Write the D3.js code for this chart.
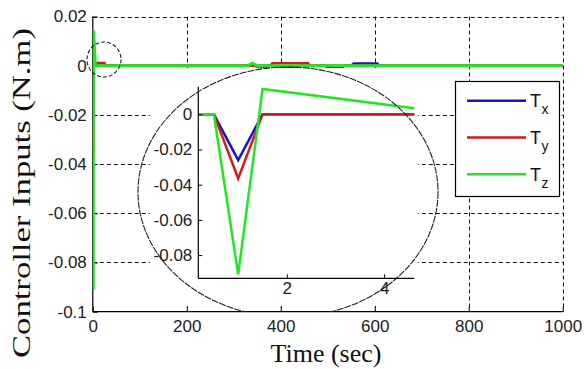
<!DOCTYPE html>
<html><head><meta charset="utf-8">
<script src="https://cdn.jsdelivr.net/npm/d3@7"></script>
<style>body{margin:0;background:#fff}svg{display:block}</style>
</head><body>
<script>
// ---- data ----
const seriesNames = ["T", "T", "T"];
const seriesSubs = ["x", "y", "z"];
const seriesColors = ["#1414c8", "#d01c1c", "#22e622"];
const txTime = [0, 0.5, 1.0, 1.5, 385, 390, 430, 435, 495, 500, 530, 535, 550, 555, 605, 610, 1000];
const txVals = [0, 0, -0.026, 0, 0, -0.0008, -0.0008, 0, 0, -0.0009, -0.0009, 0, 0, 0.0009, 0.0009, 0, 0];
const tyTime = [0, 0.5, 1.0, 1.5, 8, 9, 25, 26, 348, 352, 368, 372, 378, 382, 458, 462, 1000];
const tyVals = [0, 0, -0.0365, 0, 0, 0.0011, 0.0011, 0, 0, -0.0010, -0.0010, 0, 0, 0.0010, 0.0010, 0, 0];
const tzTime = [0, 0.5, 1.0, 1.5, 4.62, 5.6, 330, 340, 350, 1000];
const tzVals = [0, 0, -0.091, 0.0144, 0.0034, 0, 0, 0.0010, 0, 0];
const mainXTicks = [0, 200, 400, 600, 800, 1000];
const mainYTicks = [0.02, 0, -0.02, -0.04, -0.06, -0.08, -0.1];
const insetXTicks = [2, 4];
const insetYTicks = [0, -0.02, -0.04, -0.06, -0.08];
const xLabel = "Time (sec)";
const yLabel = "Controller Inputs (N.m)";

const series = [
  {t: txTime, v: txVals},
  {t: tyTime, v: tyVals},
  {t: tzTime, v: tzVals}
].map((s, i) => ({name: seriesNames[i], sub: seriesSubs[i], color: seriesColors[i],
  pts: s.t.map((t, j) => [t, s.v[j]])}));

const W = 584, H = 369;
const svg = d3.select("body").append("svg").attr("width", W).attr("height", H);
const tickFont = "'Liberation Sans', Arial, sans-serif";
const serif = "'Liberation Serif', 'Times New Roman', serif";

// ---- main axes ----
const x = d3.scaleLinear().domain([0, 1000]).range([92.8, 562.7]);
const y = d3.scaleLinear().domain([-0.1, 0.02]).range([311.7, 16.5]);

const defs = svg.append("defs");
defs.append("clipPath").attr("id", "mainclip").append("rect")
  .attr("x", x(0)).attr("y", y(0.02)).attr("width", x(1000) - x(0)).attr("height", y(-0.1) - y(0.02));

// grid
const grid = svg.append("g").attr("stroke", "#111").attr("stroke-width", 1).attr("stroke-dasharray", "4,3");
grid.selectAll("line.v").data(mainXTicks.filter(d => d > 0)).enter().append("line")
  .attr("x1", d => Math.round(x(d)) + 0.5).attr("x2", d => Math.round(x(d)) + 0.5)
  .attr("y1", y(0.02)).attr("y2", y(-0.1));
grid.selectAll("line.h").data(mainYTicks.filter(d => d > -0.1)).enter().append("line")
  .attr("y1", d => Math.round(y(d)) + 0.5).attr("y2", d => Math.round(y(d)) + 0.5)
  .attr("x1", x(0)).attr("x2", x(1000));

// axes (bottom + left)
const xAxis = d3.axisBottom(x).tickValues(mainXTicks).tickSize(-5).tickPadding(8).tickFormat(d3.format("d"));
const gx = svg.append("g").attr("transform", `translate(0,${y(-0.1)})`).call(xAxis);
const yAxis = d3.axisLeft(y).tickValues(mainYTicks).tickSize(-5).tickPadding(6)
  .tickFormat(d => d === 0 ? "0" : String(d));
const gy = svg.append("g").attr("transform", `translate(${x(0)},0)`).call(yAxis);
[gx, gy].forEach(g => {
  g.select(".domain").attr("stroke", "#000").attr("stroke-width", 1.2);
  g.selectAll(".tick line").attr("stroke", "#000");
  g.selectAll(".tick text").attr("font-family", tickFont).attr("font-size", 17).attr("fill", "#222");
});
gx.select(".domain").attr("d", `M${x(0)},0H${x(1000)}`);
gy.select(".domain").attr("d", `M0,${y(-0.1)}V${y(0.02)}`);
gx.selectAll(".tick text").attr("dy", "0.75em");

// main lines
const mainLine = d3.line().x(d => x(d[0])).y(d => y(d[1]));
const mg = svg.append("g").attr("clip-path", "url(#mainclip)");
series.forEach((s, i) => {
  mg.append("path").attr("d", mainLine(s.pts)).attr("fill", "none")
    .attr("stroke", s.color).attr("stroke-width", i === 2 ? 3 : 2.5);
});

// labels
svg.append("text").attr("x", 326).attr("y", 362).attr("text-anchor", "middle")
  .attr("font-family", serif).attr("font-size", 26).attr("fill", "#111").text(xLabel);
svg.append("text").attr("transform", "translate(30,193) rotate(-90)").attr("text-anchor", "middle")
  .attr("font-family", serif).attr("font-size", 25).attr("fill", "#111")
  .attr("textLength", 330).attr("lengthAdjust", "spacingAndGlyphs").text(yLabel);

// ---- inset ----
svg.append("rect").attr("x", 150).attr("y", 68).attr("width", 268).attr("height", 238).attr("fill", "#fff");
const xi = d3.scaleLinear().domain([0.18, 4.62]).range([198.3, 414.3]);
const yi = d3.scaleLinear().domain([-0.0932, 0.0157]).range([278.3, 86.7]);
defs.append("clipPath").attr("id", "insetclip").append("rect")
  .attr("x", xi(0.18)).attr("y", yi(0.0157) - 2).attr("width", xi(4.62) - xi(0.18)).attr("height", yi(-0.0932) - yi(0.0157) + 2);
const ig = svg.append("g").attr("clip-path", "url(#insetclip)");
const insetLine = d3.line().x(d => xi(d[0])).y(d => yi(d[1]));
series.forEach(s => {
  ig.append("path").attr("d", insetLine(s.pts)).attr("fill", "none")
    .attr("stroke", s.color).attr("stroke-width", 2.5).attr("stroke-linejoin", "miter");
});
const gxi = svg.append("g").attr("transform", `translate(0,${yi(-0.0932)})`)
  .call(d3.axisBottom(xi).tickValues(insetXTicks).tickSize(-4).tickPadding(6).tickFormat(d3.format("d")));
const gyi = svg.append("g").attr("transform", `translate(${xi(0.18)},0)`)
  .call(d3.axisLeft(yi).tickValues(insetYTicks).tickSize(-4).tickPadding(6).tickFormat(d => d === 0 ? "0" : String(d)));
[gxi, gyi].forEach(g => {
  g.select(".domain").attr("stroke", "#000").attr("stroke-width", 1.2);
  g.selectAll(".tick line").attr("stroke", "#000");
  g.selectAll(".tick text").attr("font-family", tickFont).attr("font-size", 17).attr("fill", "#222");
});
gxi.select(".domain").attr("d", `M${xi(0.18)},0H${xi(4.62)}`);
gyi.select(".domain").attr("d", `M0,${yi(-0.0932)}V${yi(0.0157)}`);
gxi.selectAll(".tick text").attr("dy", "0.6em");

// ---- annotations ----
defs.append("clipPath").attr("id", "ellclip").append("rect").attr("x", 0).attr("y", 0).attr("width", W).attr("height", 311.7);
svg.append("ellipse").attr("clip-path", "url(#ellclip)").attr("cx", 288).attr("cy", 192).attr("rx", 150).attr("ry", 125)
  .attr("fill", "none").attr("stroke", "#222").attr("stroke-width", 1.1).attr("stroke-dasharray", "7,1");
svg.append("ellipse").attr("cx", 104).attr("cy", 59.5).attr("rx", 17).attr("ry", 17.5)
  .attr("fill", "none").attr("stroke", "#222").attr("stroke-width", 1.1).attr("stroke-dasharray", "4,2");

// ---- legend ----
const lg = svg.append("g");
lg.append("rect").attr("x", 455.5).attr("y", 81.5).attr("width", 104).attr("height", 115)
  .attr("fill", "#fff").attr("stroke", "#000").attr("stroke-width", 1.2);
series.forEach((s, i) => {
  const ly = 100.7 + i * 36.8;
  lg.append("line").attr("x1", 467).attr("x2", 526).attr("y1", ly).attr("y2", ly)
    .attr("stroke", s.color).attr("stroke-width", 2.5);
  const t = lg.append("text").attr("x", 530).attr("y", ly + 6.5).attr("font-family", tickFont)
    .attr("font-size", 18).attr("fill", "#111");
  t.append("tspan").text(s.name);
  t.append("tspan").attr("dy", 7).attr("dx", 0.5).attr("font-size", 14).text(s.sub);
});
</script>
</body></html>
